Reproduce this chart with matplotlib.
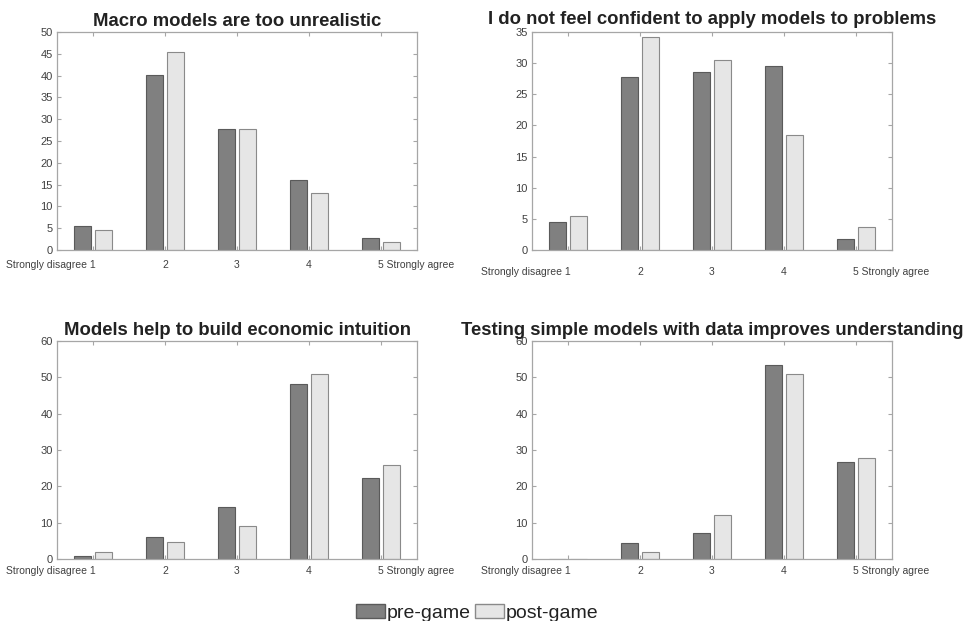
import numpy as np
import matplotlib
matplotlib.use("Agg")
import matplotlib.pyplot as plt
import matplotlib.transforms as mtransforms
from matplotlib.patches import Patch

plt.rcParams['font.family'] = ['Liberation Sans', 'DejaVu Sans']

categories = [1, 2, 3, 4, 5]
tick_labels = ["Strongly disagree 1", "2", "3", "4", "5 Strongly agree"]

titles = [
    "Macro models are too unrealistic",
    "I do not feel confident to apply models to problems",
    "Models help to build economic intuition",
    "Testing simple models with data improves understanding",
]

pre_unrealistic = [5.4, 40.2, 27.7, 16.1, 2.7]
post_unrealistic = [4.7, 45.4, 27.8, 13.0, 1.9]

pre_confident = [4.45, 27.7, 28.6, 29.5, 1.8]
post_confident = [5.5, 34.2, 30.5, 18.5, 3.65]

pre_intuition = [0.8, 6.1, 14.2, 48.2, 22.3]
post_intuition = [1.8, 4.6, 9.2, 50.8, 25.9]

pre_testing = [0, 4.4, 7.1, 53.5, 26.7]
post_testing = [0, 1.8, 12.0, 50.8, 27.7]

ylims = [50, 35, 60, 60]
ysteps = [5, 5, 10, 10]

pre_color = "#808080"
post_color = "#e6e6e6"
axis_color = "#a6a6a6"
text_color = "#404040"

W, H = 968, 621
fig = plt.figure(figsize=(W / 100, H / 100), dpi=100)

# axes boxes in pixels: left, top, right, bottom
boxes = [(57, 32, 417, 250), (532, 32, 892, 250),
         (57, 341, 417, 559), (532, 341, 892, 559)]
xpads = [7, 12, 5, 5]
title_pads = [4, 6, 4, 4]

data = [(pre_unrealistic, post_unrealistic), (pre_confident, post_confident),
        (pre_intuition, post_intuition), (pre_testing, post_testing)]

x = np.array(categories)
bw = 0.23
off = 0.145

for i, (l, t, r, b) in enumerate(boxes):
    ax = fig.add_axes([l / W, (H - b) / H, (r - l) / W, (b - t) / H])
    pre, post = data[i]
    ax.bar(x - off, pre, bw, color=pre_color, edgecolor="#5a5a5a", linewidth=0.8)
    ax.bar(x + off, post, bw, color=post_color, edgecolor="#8a8a8a", linewidth=0.8)
    ax.set_xlim(0.5, 5.5)
    ax.set_ylim(0, ylims[i])
    ax.set_yticks(np.arange(0, ylims[i] + 1, ysteps[i]))
    ax.set_xticks(x)
    ax.set_xticklabels(tick_labels)
    ax.tick_params(direction="in", length=3, width=0.8, color=axis_color,
                   labelcolor=text_color, top=True, right=True)
    ax.tick_params(axis="x", labelsize=7.5, pad=xpads[i])
    ax.tick_params(axis="y", labelsize=8, pad=3)
    # end labels: keep the number on the tick, text hanging outwards
    labs = ax.get_xticklabels()
    labs[0].set_ha("right")
    labs[0].set_transform(labs[0].get_transform() +
                          mtransforms.ScaledTranslation(3 / 100, 0, fig.dpi_scale_trans))
    labs[-1].set_ha("left")
    labs[-1].set_transform(labs[-1].get_transform() +
                           mtransforms.ScaledTranslation(-3 / 100, 0, fig.dpi_scale_trans))
    for s in ax.spines.values():
        s.set_color(axis_color)
        s.set_linewidth(0.9)
    ax.set_title(titles[i], fontsize=13.3, fontweight="bold", color="#222222",
                 pad=title_pads[i])

handles = [Patch(facecolor=pre_color, edgecolor="#5a5a5a", label="pre-game"),
           Patch(facecolor=post_color, edgecolor="#8a8a8a", label="post-game")]
fig.legend(handles=handles, loc="lower center", bbox_to_anchor=(0.493, -0.03), ncol=2,
           frameon=False, fontsize=14, handlelength=1.5, handleheight=0.75,
           handletextpad=0.1, columnspacing=0.2, labelcolor="#222222")

fig.savefig("out.png", dpi=100)
